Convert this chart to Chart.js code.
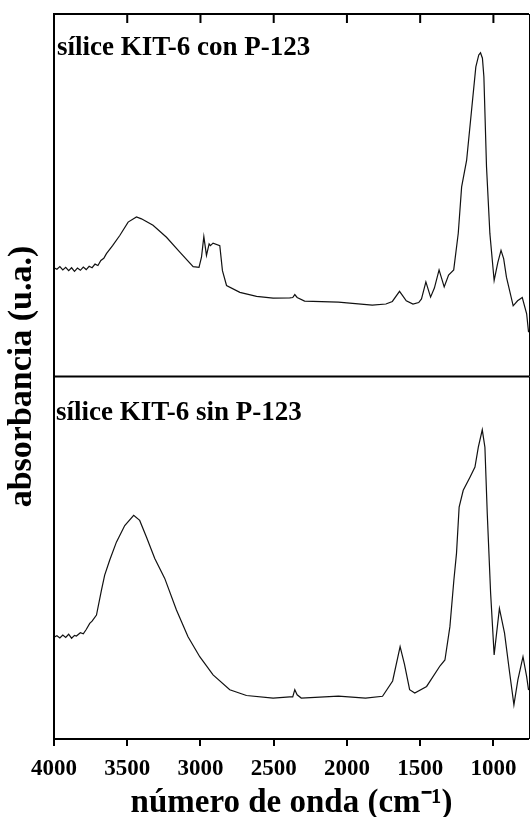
<!DOCTYPE html>
<html><head><meta charset="utf-8">
<script src="https://cdn.jsdelivr.net/npm/chart.js@4.4.1/dist/chart.umd.min.js"></script>
<style>html,body{margin:0;padding:0;background:#fff;}#wrap{width:531px;height:817px;position:relative}canvas{display:block}</style>
</head><body><div id="wrap"><canvas id="c" width="531" height="817"></canvas></div>
<script>
// ---- data ----
const wavenumbersTop = [4000,3980,3960,3940,3920,3900,3880,3860,3840,3820,3800,3780,3760,3740,3720,3700,3680,3660,3642,3600,3551,3494,3437,3403,3324,3232,3141,3050,3010,2993,2977,2959,2941,2932,2914,2868,2850,2822,2731,2617,2504,2390,2370,2356,2340,2289,2058,1827,1734,1690,1641,1620,1595,1549,1510,1491,1461,1429,1403,1371,1336,1306,1271,1240,1217,1183,1149,1120,1100,1088,1075,1065,1047,1024,995,970,948,930,911,865,835,803,773,760];
const absorbanceTop = [30.0,29.6,30.3,29.4,30.1,29.2,30.0,29.0,29.9,29.3,30.2,29.5,30.4,30.0,31.0,30.6,32.0,32.6,33.9,36.1,38.9,42.6,44.0,43.5,41.7,38.4,34.3,30.3,30.1,32.9,38.6,33.4,36.6,36.1,36.8,36.1,29.2,25.1,23.2,22.1,21.6,21.7,21.8,22.6,21.8,20.8,20.5,19.7,20.0,20.7,23.5,22.3,20.9,20.0,20.4,21.4,26.1,21.9,24.4,29.4,24.7,28.0,29.4,39.5,52.3,59.6,73.5,85.4,88.7,89.3,87.8,82.7,57.8,39.4,26.5,31.4,34.8,32.5,27.4,19.5,20.9,21.8,17.3,12.2];
const wavenumbersBottom = [4000,3980,3960,3940,3920,3900,3880,3860,3847,3820,3800,3780,3756,3740,3710,3676,3654,3620,3574,3517,3456,3415,3369,3312,3244,3164,3085,3005,2914,2800,2686,2504,2390,2370,2356,2340,2312,2058,1873,1757,1688,1637,1607,1572,1537,1456,1364,1331,1297,1270,1252,1234,1206,1160,1126,1103,1076,1058,1042,1019,995,959,924,889,860,833,798,773,760];
const absorbanceBottom = [28.1,28.5,27.9,28.7,28.0,28.9,27.8,28.6,28.4,29.3,29.0,30.2,31.9,32.5,34.2,41.1,45.2,49.3,54.3,58.9,61.7,60.3,55.7,49.8,44.3,35.6,28.2,22.7,17.7,13.6,12.0,11.3,11.6,11.6,13.6,12.2,11.3,11.8,11.3,11.8,16.0,25.5,20.6,13.6,12.7,14.5,20.2,21.8,31.0,43.8,51.2,64.0,68.6,72.2,75.0,80.5,85.3,80.5,62.2,40.2,23.2,36.0,29.2,18.2,9.4,16.3,22.7,17.2,13.5];
const xTickValues = [4000,3500,3000,2500,2000,1500,1000];
const panelLabels = ['sílice KIT-6 con P-123', 'sílice KIT-6 sin P-123'];
const xTitle = 'número de onda (cm⁻¹)';
const yTitle = 'absorbancia (u.a.)';

const SERIF = '"Liberation Serif", "Times New Roman", serif';

const framePlugin = {
  id: 'frame',
  afterDraw(chart) {
    const {ctx, chartArea: a, scales} = chart;
    const x = scales.x, y1 = scales.y1;
    ctx.save();
    ctx.strokeStyle = '#000';
    ctx.lineCap = 'butt';
    ctx.lineWidth = 2;
    ctx.beginPath();
    ctx.moveTo(a.left, a.bottom); ctx.lineTo(a.left, a.top - 1);
    ctx.moveTo(a.left - 1, a.top); ctx.lineTo(a.right, a.top);
    ctx.moveTo(a.left - 1, a.bottom); ctx.lineTo(a.right, a.bottom);
    const yd = y1.getPixelForValue(0);
    ctx.moveTo(a.left - 1, yd); ctx.lineTo(a.right, yd);
    ctx.stroke();
    ctx.lineWidth = 1;
    ctx.beginPath();
    ctx.moveTo(a.right + 0.5, a.top); ctx.lineTo(a.right + 0.5, a.bottom);
    ctx.stroke();
    ctx.lineWidth = 2;
    ctx.beginPath();
    xTickValues.forEach(v => {
      const px = x.getPixelForValue(v);
      ctx.moveTo(px, a.top); ctx.lineTo(px, a.top + 9);
    });
    ctx.stroke();
    ctx.fillStyle = '#000';
    ctx.font = 'bold 27px ' + SERIF;
    ctx.textBaseline = 'alphabetic';
    ctx.textAlign = 'left';
    ctx.fillText(panelLabels[0], a.left + 3, a.top + 41);
    ctx.fillText(panelLabels[1], a.left + 2, yd + 43);
    ctx.restore();
  }
};

const toPts = (xs, ys) => xs.map((w, i) => ({x: w, y: ys[i]}));

new Chart(document.getElementById('c'), {
  type: 'line',
  data: {
    datasets: [
      {label: panelLabels[0], data: toPts(wavenumbersTop, absorbanceTop), yAxisID: 'y1',
       borderColor: '#111', borderWidth: 1.2, pointRadius: 0, tension: 0, fill: false},
      {label: panelLabels[1], data: toPts(wavenumbersBottom, absorbanceBottom), yAxisID: 'y2',
       borderColor: '#111', borderWidth: 1.2, pointRadius: 0, tension: 0, fill: false}
    ]
  },
  options: {
    responsive: false,
    devicePixelRatio: 1,
    animation: false,
    layout: {padding: {top: 14, right: 2, left: 0, bottom: 0}},
    plugins: {legend: {display: false}, tooltip: {enabled: false}},
    scales: {
      x: {
        type: 'linear', reverse: true, min: 757, max: 4000, position: 'bottom',
        afterBuildTicks: s => { s.ticks = xTickValues.map(v => ({value: v})); },
        afterFit: s => { s.height = 78; },
        grid: {drawOnChartArea: false, drawTicks: true, tickLength: 7, color: '#000', lineWidth: 2},
        border: {display: false},
        ticks: {autoSkip: false, maxRotation: 0, color: '#000', padding: 9,
                callback: v => String(v),
                font: {family: SERIF, size: 23, weight: 'bold'}},
        title: {display: true, text: xTitle, color: '#000', padding: 0,
                font: {family: SERIF, size: 33, weight: 'bold', lineHeight: 0.8}}
      },
      y1: {type: 'linear', min: -100, max: 100, display: false, position: 'left'},
      y2: {
        type: 'linear', min: 0, max: 200, position: 'left',
        afterFit: s => { s.width = 54; },
        grid: {display: false}, border: {display: false},
        ticks: {display: false},
        title: {display: true, text: yTitle, color: '#000', padding: {top: 2, bottom: 0},
                font: {family: SERIF, size: 34, weight: 'bold', lineHeight: 1.2}}
      }
    }
  },
  plugins: [framePlugin]
});
</script>
</body></html>
